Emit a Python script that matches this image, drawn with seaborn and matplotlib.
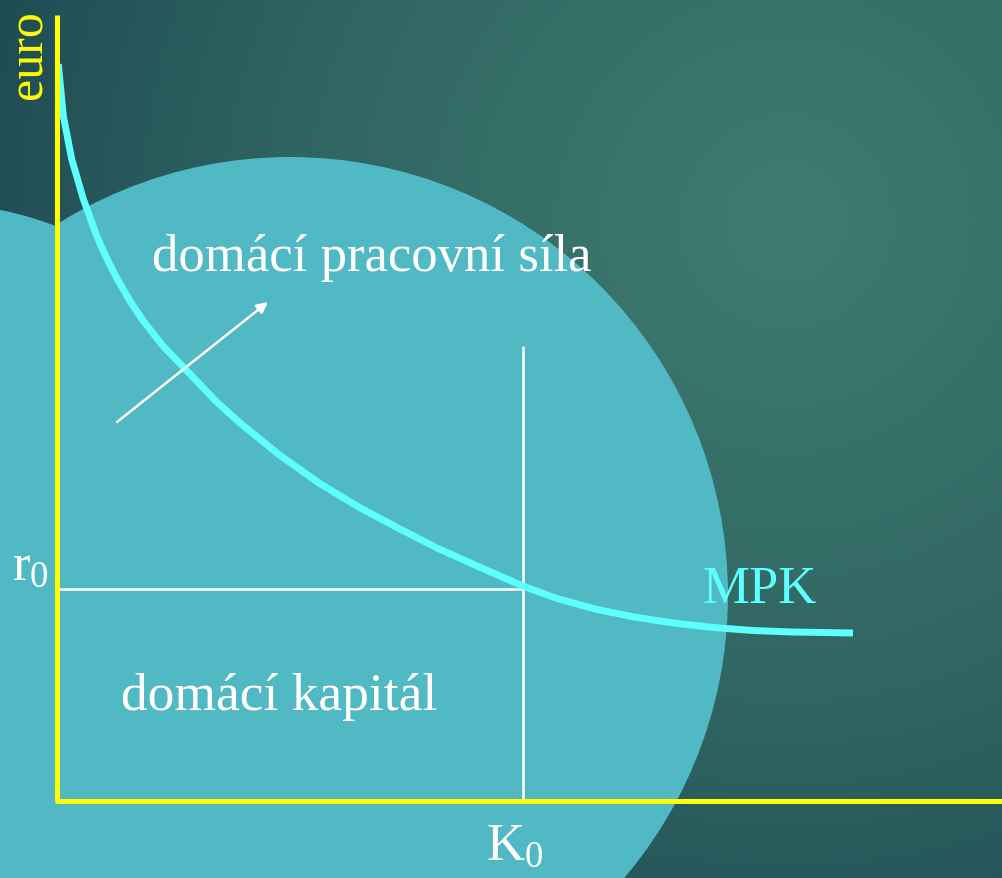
import numpy as np
import matplotlib
matplotlib.use("Agg")
import matplotlib.pyplot as plt
import seaborn as sns
from matplotlib.patches import Circle
from matplotlib.colors import LinearSegmentedColormap

# MPK curve (capital on x, return on y)
mpk_x = [0.013, 0.063, 0.147, 0.263, 0.397, 0.50, 0.597, 0.73, 0.863, 1.06, 1.263, 1.597, 1.83,
         2.225, 2.62, 3.016, 3.41, 3.80, 4.20, 4.66, 4.985, 5.38, 5.77, 6.166, 6.56, 6.955,
         7.35, 7.96]
mpk_y = [7.37, 6.85, 6.42, 6.02, 5.65, 5.42, 5.23, 5.00, 4.80, 4.55, 4.34, 3.99, 3.78,
         3.46, 3.18, 2.94, 2.73, 2.53, 2.35, 2.15, 2.03, 1.92, 1.84, 1.78, 1.735, 1.705,
         1.69, 1.68]

k0 = 4.66
r0 = 2.12
k0_line_top = 4.54
x_axis_end = 9.45
y_axis_end = 7.86

arrow_start = (0.60, 3.79)
arrow_end = (2.11, 4.99)

labels = {
    "labour": "domácí pracovní síla",
    "capital": "domácí kapitál",
    "curve": "MPK",
    "yaxis": "euro",
}

sns.set_theme(style="white")
plt.rcParams["font.family"] = ["Liberation Serif", "DejaVu Serif"]
plt.rcParams["mathtext.fontset"] = "custom"
plt.rcParams["mathtext.rm"] = "Liberation Serif"

fig = plt.figure(figsize=(10.02, 8.79), dpi=100)
ax = fig.add_axes([0, 0, 1, 1])
xmin, xmax, ymin, ymax = -0.57, 9.45, -0.77, 8.02
ax.set_xlim(xmin, xmax)
ax.set_ylim(ymin, ymax)
ax.axis("off")

# background: soft radial gradient
gx, gy = np.meshgrid(np.linspace(xmin, xmax, 400), np.linspace(ymin, ymax, 350))
d = np.sqrt((gx - 7.3) ** 2 + (gy - 5.8) ** 2) / 10.0
bg = LinearSegmentedColormap.from_list("bg", ["#3f7c70", "#2f6462", "#173f4c"])
ax.imshow(np.clip(d, 0, 1), extent=(xmin, xmax, ymin, ymax), origin="lower",
          cmap=bg, vmin=0, vmax=1, aspect="auto", zorder=0)

ax.add_patch(Circle((-1.26, 2.48), 3.5, color="#51b9c3", zorder=1, lw=0))
ax.add_patch(Circle((2.33, 2.06), 4.38, color="#51b9c3", zorder=1, lw=0))

# guide lines
ax.plot([0, k0], [r0, r0], color="white", lw=1.8, zorder=3)
ax.plot([k0, k0], [0, k0_line_top], color="white", lw=1.8, zorder=3)

sns.lineplot(x=mpk_x, y=mpk_y, sort=False, color="#5effff", lw=5, ax=ax, zorder=4,
             solid_joinstyle="round", solid_capstyle="butt")

ax.annotate("", xy=arrow_end, xytext=arrow_start, zorder=5,
            arrowprops=dict(arrowstyle="-|>", color="white", lw=1.8,
                            mutation_scale=16, shrinkA=0, shrinkB=0))

# axes
ax.plot([0, 0], [0, y_axis_end], color="#ffff00", lw=3.6, solid_capstyle="butt", zorder=6)
ax.plot([-0.02, x_axis_end], [0, 0], color="#ffff00", lw=3.6, solid_capstyle="butt", zorder=6)

ax.text(3.15, 5.44, labels["labour"], color="white", fontsize=38, ha="center", va="center", zorder=7)
ax.text(2.22, 1.05, labels["capital"], color="white", fontsize=38.5, ha="center", va="center", zorder=7)
ax.text(7.03, 2.12, labels["curve"], color="#5effff", fontsize=38, ha="center", va="center", zorder=7)
ax.text(-0.28, 7.47, labels["yaxis"], color="#ffff00", fontsize=36, ha="center", va="center",
        rotation=90, zorder=7)
ax.text(-0.27, 2.35, r"$\mathregular{r_0}$", color="white", fontsize=38, ha="center", va="center", zorder=7)
ax.text(4.58, -0.45, r"$\mathregular{K_0}$", color="white", fontsize=38, ha="center", va="center", zorder=7)

fig.savefig("out.png", dpi=100)
